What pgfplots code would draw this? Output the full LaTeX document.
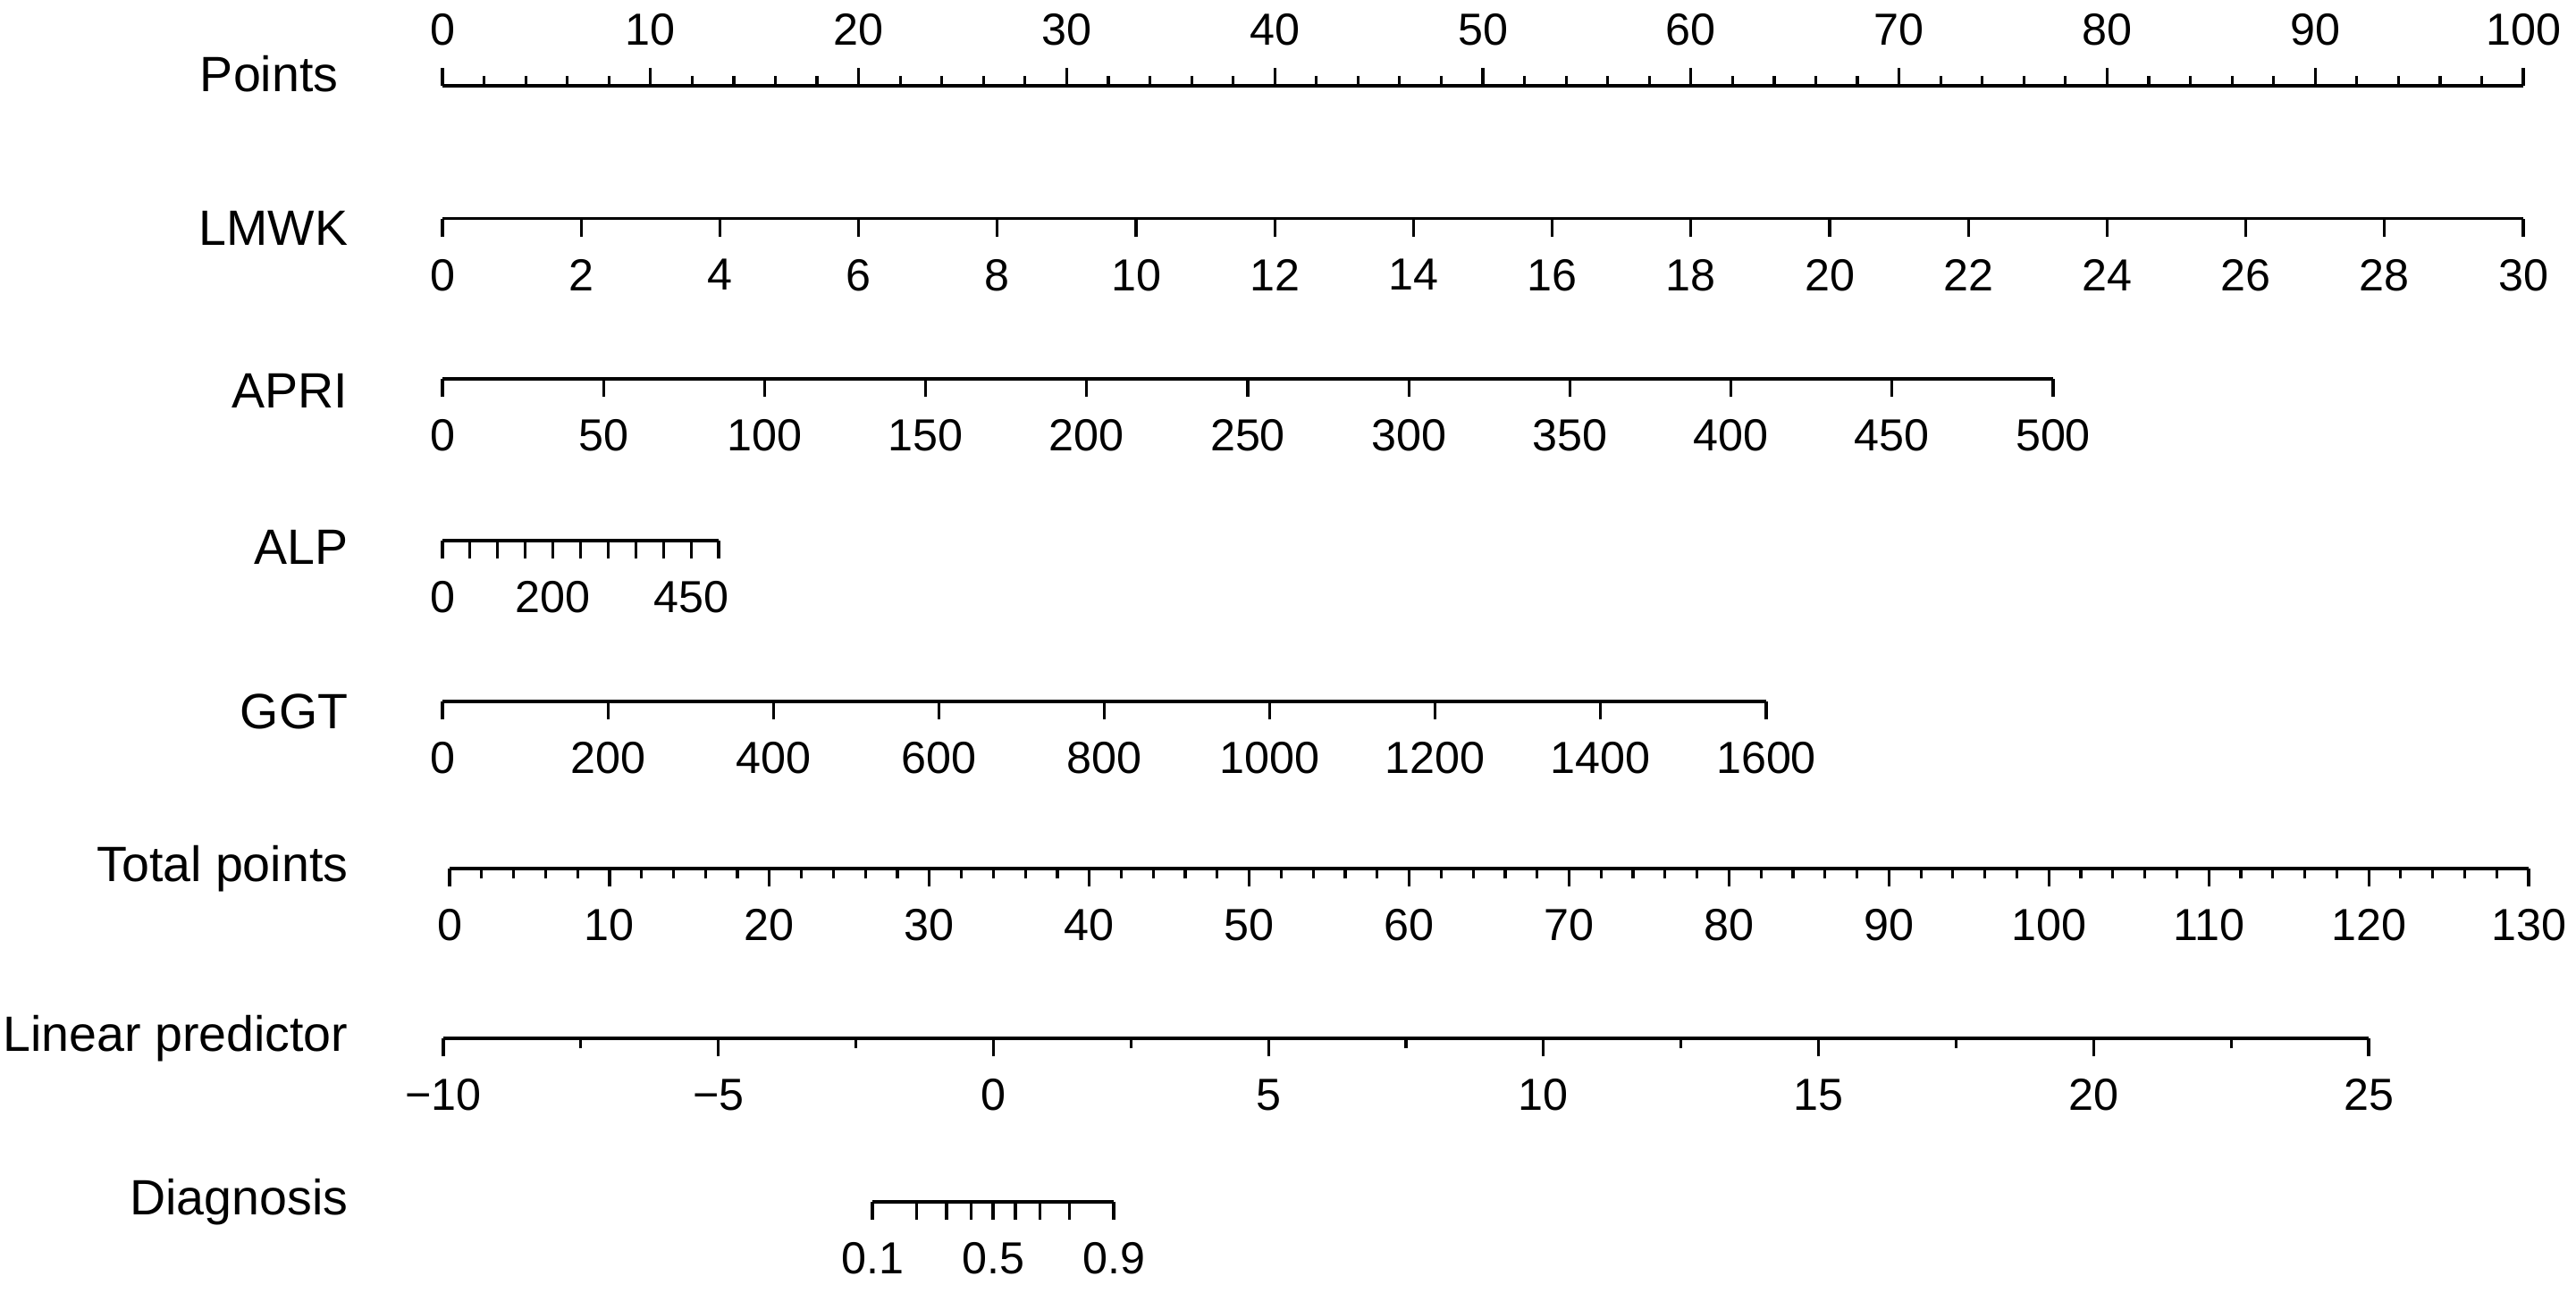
\documentclass[border=0pt]{standalone}
\usepackage{fontspec}
\setmainfont{Liberation Sans}
\usepackage{pgfplots}
\pgfplotsset{compat=1.18}

% one horizontal scale of the nomogram: only the x axis line is drawn
\pgfplotsset{
  nomoscale/.style={
    scale only axis, height=0.5cm,
    ymin=0, ymax=1, enlargelimits=false,
    axis y line=none, axis x line*=bottom,
    tick align=outside,
    major tick length=0.2cm, minor tick length=0.11cm,
    tick style={black, line width=0.9pt},
    axis line style={black, line width=1.1pt},
    /pgf/number format/assume math mode=true,
    /pgf/number format/set thousands separator={},
    scaled x ticks=false,
    xticklabel shift=0.13cm,
    xticklabel style={font=\fontsize{14.3}{16}\selectfont},
    clip=false,
  },
}

\begin{document}
\begin{tikzpicture}
\tikzset{rowlabel/.style={anchor=east, font=\fontsize{15.8}{18}\selectfont, inner sep=0pt}}

% Points
\begin{axis}[nomoscale, axis x line*=top, at={(4.95cm,-0.96cm)}, anchor=north west,
  width=23.28cm, xmin=0, xmax=100, xtick={0,10,...,100}, minor x tick num=4]
\end{axis}

% LMWK
\begin{axis}[nomoscale, at={(4.95cm,-2.445cm)}, anchor=south west,
  width=23.28cm, xmin=0, xmax=30, xtick={0,2,...,30}]
\end{axis}

% APRI
\begin{axis}[nomoscale, at={(4.95cm,-4.24cm)}, anchor=south west,
  width=18.02cm, xmin=0, xmax=500, xtick={0,50,...,500}]
\end{axis}

% ALP
\begin{axis}[nomoscale, at={(4.95cm,-6.05cm)}, anchor=south west,
  width=3.09cm, xmin=0, xmax=500, xtick={0,50,...,500},
  xticklabels={0,,,,200,,,,,450,}]
\end{axis}

% GGT
\begin{axis}[nomoscale, at={(4.95cm,-7.85cm)}, anchor=south west,
  width=14.81cm, xmin=0, xmax=1600, xtick={0,200,...,1600}]
\end{axis}

% Total points
\begin{axis}[nomoscale, at={(5.03cm,-9.72cm)}, anchor=south west,
  width=23.26cm, xmin=0, xmax=130, xtick={0,10,...,130}, minor x tick num=4]
\end{axis}

% Linear predictor
\begin{axis}[nomoscale, at={(4.96cm,-11.62cm)}, anchor=south west,
  width=21.54cm, xmin=-10, xmax=25, xtick={-10,-5,0,5,10,15,20,25}, minor x tick num=1,
  xticklabels={−10,−5,0,5,10,15,20,25}]
\end{axis}

% Diagnosis: probabilities placed at their logits on the linear predictor scale
\begin{axis}[nomoscale, at={(9.76cm,-13.45cm)}, anchor=south west,
  width=2.70cm, xmin=-2.1972, xmax=2.1972,
  xtick={-2.1972,-1.3863,-0.8473,-0.4055,0,0.4055,0.8473,1.3863,2.1972},
  xticklabels={0.1,,,,0.5,,,,0.9}]
\end{axis}

\node[rowlabel] at (3.79,-0.83) {Points};
\node[rowlabel] at (3.90,-2.55) {LMWK};
\node[rowlabel] at (3.90,-4.37) {APRI};
\node[rowlabel] at (3.90,-6.12) {ALP};
\node[rowlabel] at (3.90,-7.96) {GGT};
\node[rowlabel] at (3.90,-9.72) {Total points};
\node[rowlabel] at (3.90,-11.62) {Linear predictor};
\node[rowlabel] at (3.90,-13.45) {Diagnosis};

\pgfresetboundingbox
\useasboundingbox (0,0) rectangle (28.82,-14.46);
\end{tikzpicture}
\end{document}
